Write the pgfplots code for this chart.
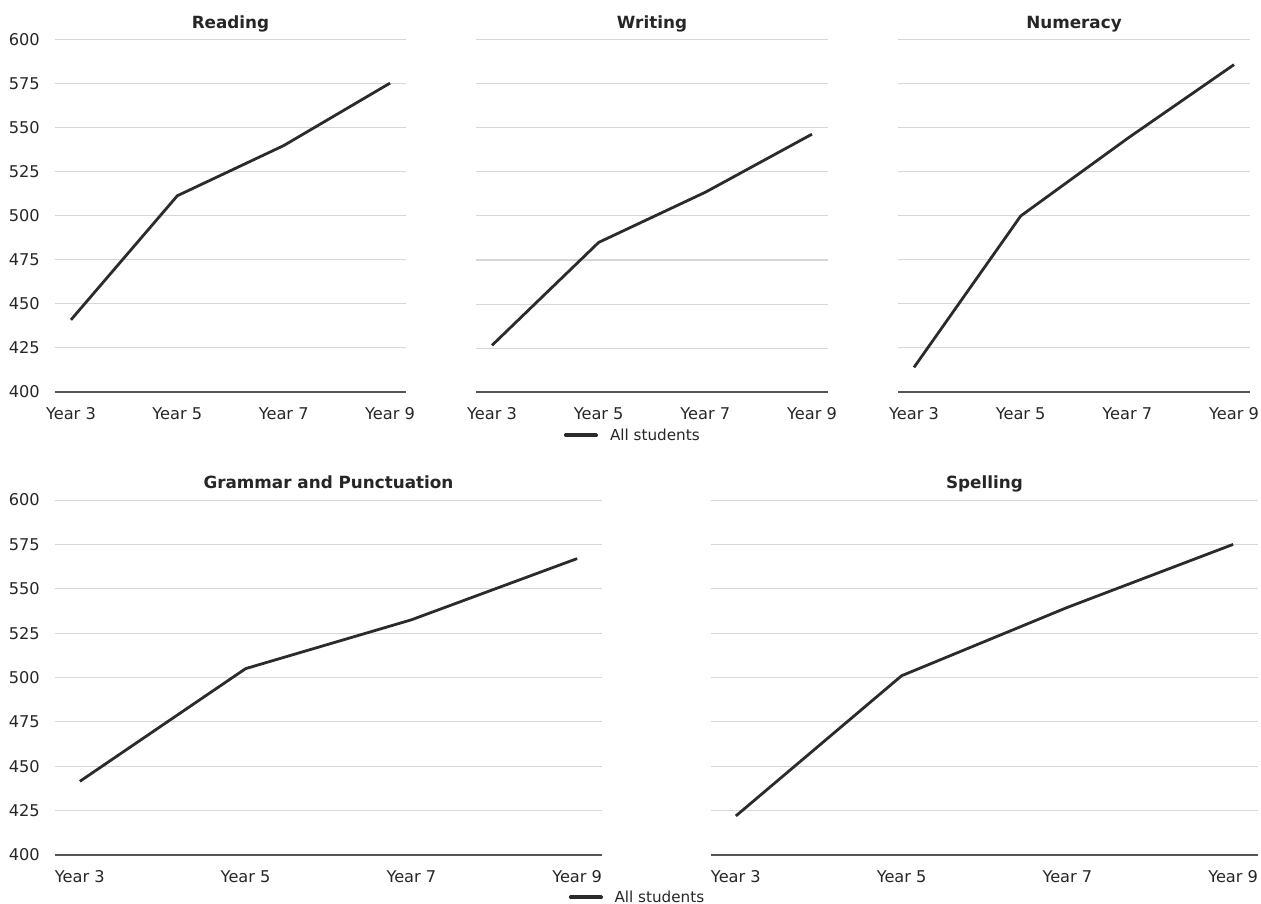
\documentclass[border=0pt]{standalone}
\usepackage{fontspec}
\setmainfont{DejaVu Sans}
\usepackage{pgfplots}
\pgfplotsset{compat=1.18}
\definecolor{linec}{HTML}{2B2B2B}
\definecolor{gridc}{HTML}{D6D6D6}
\definecolor{spinec}{HTML}{555555}
\definecolor{textc}{HTML}{262626}
\pgfplotsset{
  panel/.style={
    scale only axis,
    anchor=north west,
    xmin=-0.15, xmax=3.15,
    ymin=400, ymax=600,
    xtick={0,1,2,3},
    xticklabels={Year 3,Year 5,Year 7,Year 9},
    ytick={400,425,...,600},
    ymajorgrids,
    major grid style={gridc, line width=1pt},
    axis x line*=bottom,
    axis y line*=left,
    x axis line style={spinec, line width=1.25pt, -},
    y axis line style={draw=none},
    major tick length=0pt,
    tick label style={font=\fontsize{16.2}{19}\selectfont, text=textc},
    /pgf/number format/assume math mode=true,
    xticklabel style={anchor=base, inner sep=0pt, yshift=-27pt},
    yticklabel style={anchor=east, inner sep=0pt, xshift=-15pt},
    title style={font=\bfseries\fontsize{16.8}{20}\selectfont, text=textc, anchor=base, yshift=5.5pt},
    legend image code/.code={\fill[linec] (0pt,-0.9pt) rectangle (31pt,0.9pt); \path (43pt,0pt);},
    legend style={draw=none, fill=none, inner sep=0pt, anchor=center,
      font=\fontsize{15.2}{18}\selectfont, text=textc,
      nodes={inner sep=0pt}},
    clip=false,
  },
  dline/.style={linec, line width=2.8pt, line join=round, no marks},
}
\begin{document}
\begin{tikzpicture}
\useasboundingbox (0pt,0pt) rectangle (1261pt,-904pt);
% Reading
\begin{axis}[panel, at={(55pt,-40pt)}, width=351pt, height=352pt, title={Reading}]
\addplot[dline] coordinates {(0,441) (1,511.5) (2,540) (3,575.5)};
\end{axis}
% Writing
\begin{axis}[panel, at={(476pt,-40pt)}, width=352pt, height=352pt, title={Writing}, yticklabels={},
  legend style={at={(0.4432,-0.1222)}}]
\addplot[dline] coordinates {(0,426.5) (1,485) (2,513.5) (3,546.5)};
\addlegendentry{All students}
\end{axis}
% Numeracy
\begin{axis}[panel, at={(898pt,-40pt)}, width=352pt, height=352pt, title={Numeracy}, yticklabels={}]
\addplot[dline] coordinates {(0,414) (1,500) (2,544) (3,586)};
\end{axis}
% Grammar and Punctuation
\begin{axis}[panel, at={(55pt,-500pt)}, width=547pt, height=355pt, title={Grammar and Punctuation},
  legend style={at={(1.063,-0.1183)}}]
\addplot[dline] coordinates {(0,441.5) (1,505) (2,532.5) (3,567)};
\addlegendentry{All students}
\end{axis}
% Spelling
\begin{axis}[panel, at={(711pt,-500pt)}, width=547pt, height=355pt, title={Spelling}, yticklabels={}]
\addplot[dline] coordinates {(0,422) (1,501) (2,539.5) (3,575)};
\end{axis}
\end{tikzpicture}
\end{document}
